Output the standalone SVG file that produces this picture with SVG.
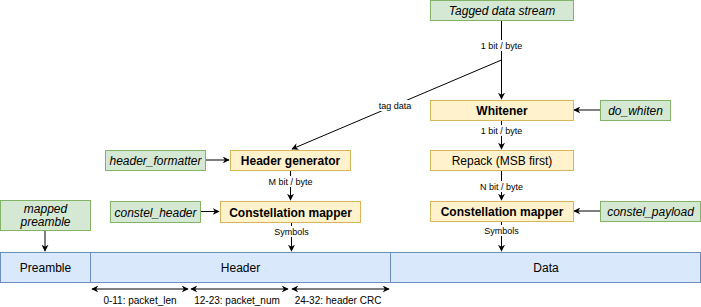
<svg xmlns="http://www.w3.org/2000/svg" width="701" height="307" viewBox="0 0 701 307">
  <style>
    text { font-family: "Liberation Sans", Arial, sans-serif; fill: #000; }
    .g { fill: #d5e8d4; stroke: #82b366; stroke-width: 1; }
    .y { fill: #fff2cc; stroke: #d6b656; stroke-width: 1; }
    .b { fill: #dae8fc; stroke: #6c8ebf; stroke-width: 1; }
    .lbl { font-size: 12px; text-anchor: middle; }
    .it { font-style: italic; }
    .bd { font-weight: bold; }
    .edge { fill: none; stroke: #000; stroke-width: 1; }
    .el { font-size: 9px; text-anchor: middle; }
    .elbg { fill: #fff; stroke: none; }
  </style>
  <defs>
    <marker id="arr" viewBox="0 0 10 10" refX="9" refY="5" markerWidth="7" markerHeight="7" orient="auto-start-reverse" markerUnits="userSpaceOnUse">
      <path d="M0,0 L10,5 L0,10 L3,5 Z" fill="#000"/>
    </marker>
  </defs>

  <!-- connectors -->
  <g id="connectors">
    <path class="edge" d="M501.5,20 V99" marker-end="url(#arr)"/>
    <path class="edge" d="M501.5,60 L292,149" marker-end="url(#arr)"/>
    <path class="edge" d="M600,110 H574" marker-end="url(#arr)"/>
    <path class="edge" d="M501.5,120 V149" marker-end="url(#arr)"/>
    <path class="edge" d="M501.5,170 V200" marker-end="url(#arr)"/>
    <path class="edge" d="M600,211 H574" marker-end="url(#arr)"/>
    <path class="edge" d="M501.5,221 V251" marker-end="url(#arr)"/>
    <path class="edge" d="M205,160 H229" marker-end="url(#arr)"/>
    <path class="edge" d="M290.5,170 V200" marker-end="url(#arr)"/>
    <path class="edge" d="M200,211.5 H219" marker-end="url(#arr)"/>
    <path class="edge" d="M291.5,222 V251" marker-end="url(#arr)"/>
    <path class="edge" d="M45,230 V251" marker-end="url(#arr)"/>
    <path class="edge" d="M92,289 H188" marker-start="url(#arr)" marker-end="url(#arr)"/>
    <path class="edge" d="M191,289 H288" marker-start="url(#arr)" marker-end="url(#arr)"/>
    <path class="edge" d="M292,289 H389" marker-start="url(#arr)" marker-end="url(#arr)"/>

    <rect class="elbg" x="477" y="40" width="49" height="11"/>
    <text class="el" x="501.5" y="48.5">1 bit / byte</text>
    <rect class="elbg" x="377" y="100" width="36" height="11"/>
    <text class="el" x="395" y="108.5">tag data</text>
    <rect class="elbg" x="477" y="125" width="49" height="11"/>
    <text class="el" x="501.5" y="133.5">1 bit / byte</text>
    <rect class="elbg" x="477" y="181" width="49" height="11"/>
    <text class="el" x="501.5" y="189.5">N bit / byte</text>
    <rect class="elbg" x="482" y="225" width="39" height="11"/>
    <text class="el" x="501.5" y="233.5">Symbols</text>
    <rect class="elbg" x="266" y="176" width="50" height="11"/>
    <text class="el" x="290.5" y="184.5">M bit / byte</text>
    <rect class="elbg" x="272" y="226" width="39" height="11"/>
    <text class="el" x="291.5" y="234.5">Symbols</text>
  </g>

  <g id="tagged-data-stream">
    <rect class="g" x="430.5" y="0.5" width="143" height="20"/>
    <text class="lbl it" x="502" y="15">Tagged data stream</text>
  </g>
  <g id="whitener">
    <rect class="y" x="430.5" y="100.5" width="143" height="20"/>
    <text class="lbl bd" x="502" y="115">Whitener</text>
  </g>
  <g id="do-whiten">
    <rect class="g" x="600.5" y="100.5" width="70" height="20"/>
    <text class="lbl it" x="635.5" y="115">do_whiten</text>
  </g>
  <g id="repack">
    <rect class="y" x="430.5" y="150.5" width="143" height="20"/>
    <text class="lbl" x="502" y="165">Repack (MSB first)</text>
  </g>
  <g id="payload-mapper">
    <rect class="y" x="430.5" y="201.5" width="143" height="20"/>
    <text class="lbl bd" x="502" y="216">Constellation mapper</text>
  </g>
  <g id="constel-payload">
    <rect class="g" x="600.5" y="201.5" width="100" height="20"/>
    <text class="lbl it" x="650.5" y="216">constel_payload</text>
  </g>
  <g id="header-generator">
    <rect class="y" x="230.5" y="150.5" width="120" height="20"/>
    <text class="lbl bd" x="290.5" y="165">Header generator</text>
  </g>
  <g id="header-formatter">
    <rect class="g" x="105.5" y="150.5" width="100" height="20"/>
    <text class="lbl it" x="155.5" y="165">header_formatter</text>
  </g>
  <g id="header-mapper">
    <rect class="y" x="220.5" y="201.5" width="140" height="21"/>
    <text class="lbl bd" x="290.5" y="216.5">Constellation mapper</text>
  </g>
  <g id="constel-header">
    <rect class="g" x="110.5" y="201.5" width="90" height="21"/>
    <text class="lbl it" x="155.5" y="216.5">constel_header</text>
  </g>
  <g id="mapped-preamble">
    <rect class="g" x="0.5" y="200.5" width="90" height="30"/>
    <text class="lbl it" x="45.5" y="213">mapped</text>
    <text class="lbl it" x="45.5" y="226">preamble</text>
  </g>

  <g id="preamble">
    <rect class="b" x="0.5" y="252.5" width="90" height="30"/>
    <text class="lbl" x="45.5" y="272">Preamble</text>
  </g>
  <g id="header">
    <rect class="b" x="90.5" y="252.5" width="300" height="30"/>
    <text class="lbl" x="240.5" y="272">Header</text>
  </g>
  <g id="data">
    <rect class="b" x="390.5" y="252.5" width="310" height="30"/>
    <text class="lbl" x="546" y="272">Data</text>
  </g>

  <g id="field-labels">
    <text class="el" x="140" y="304" style="font-size:10px">0-11: packet_len</text>
    <text class="el" x="237" y="304" style="font-size:10px">12-23: packet_num</text>
    <text class="el" x="338" y="304" style="font-size:10px">24-32: header CRC</text>
  </g>
</svg>
